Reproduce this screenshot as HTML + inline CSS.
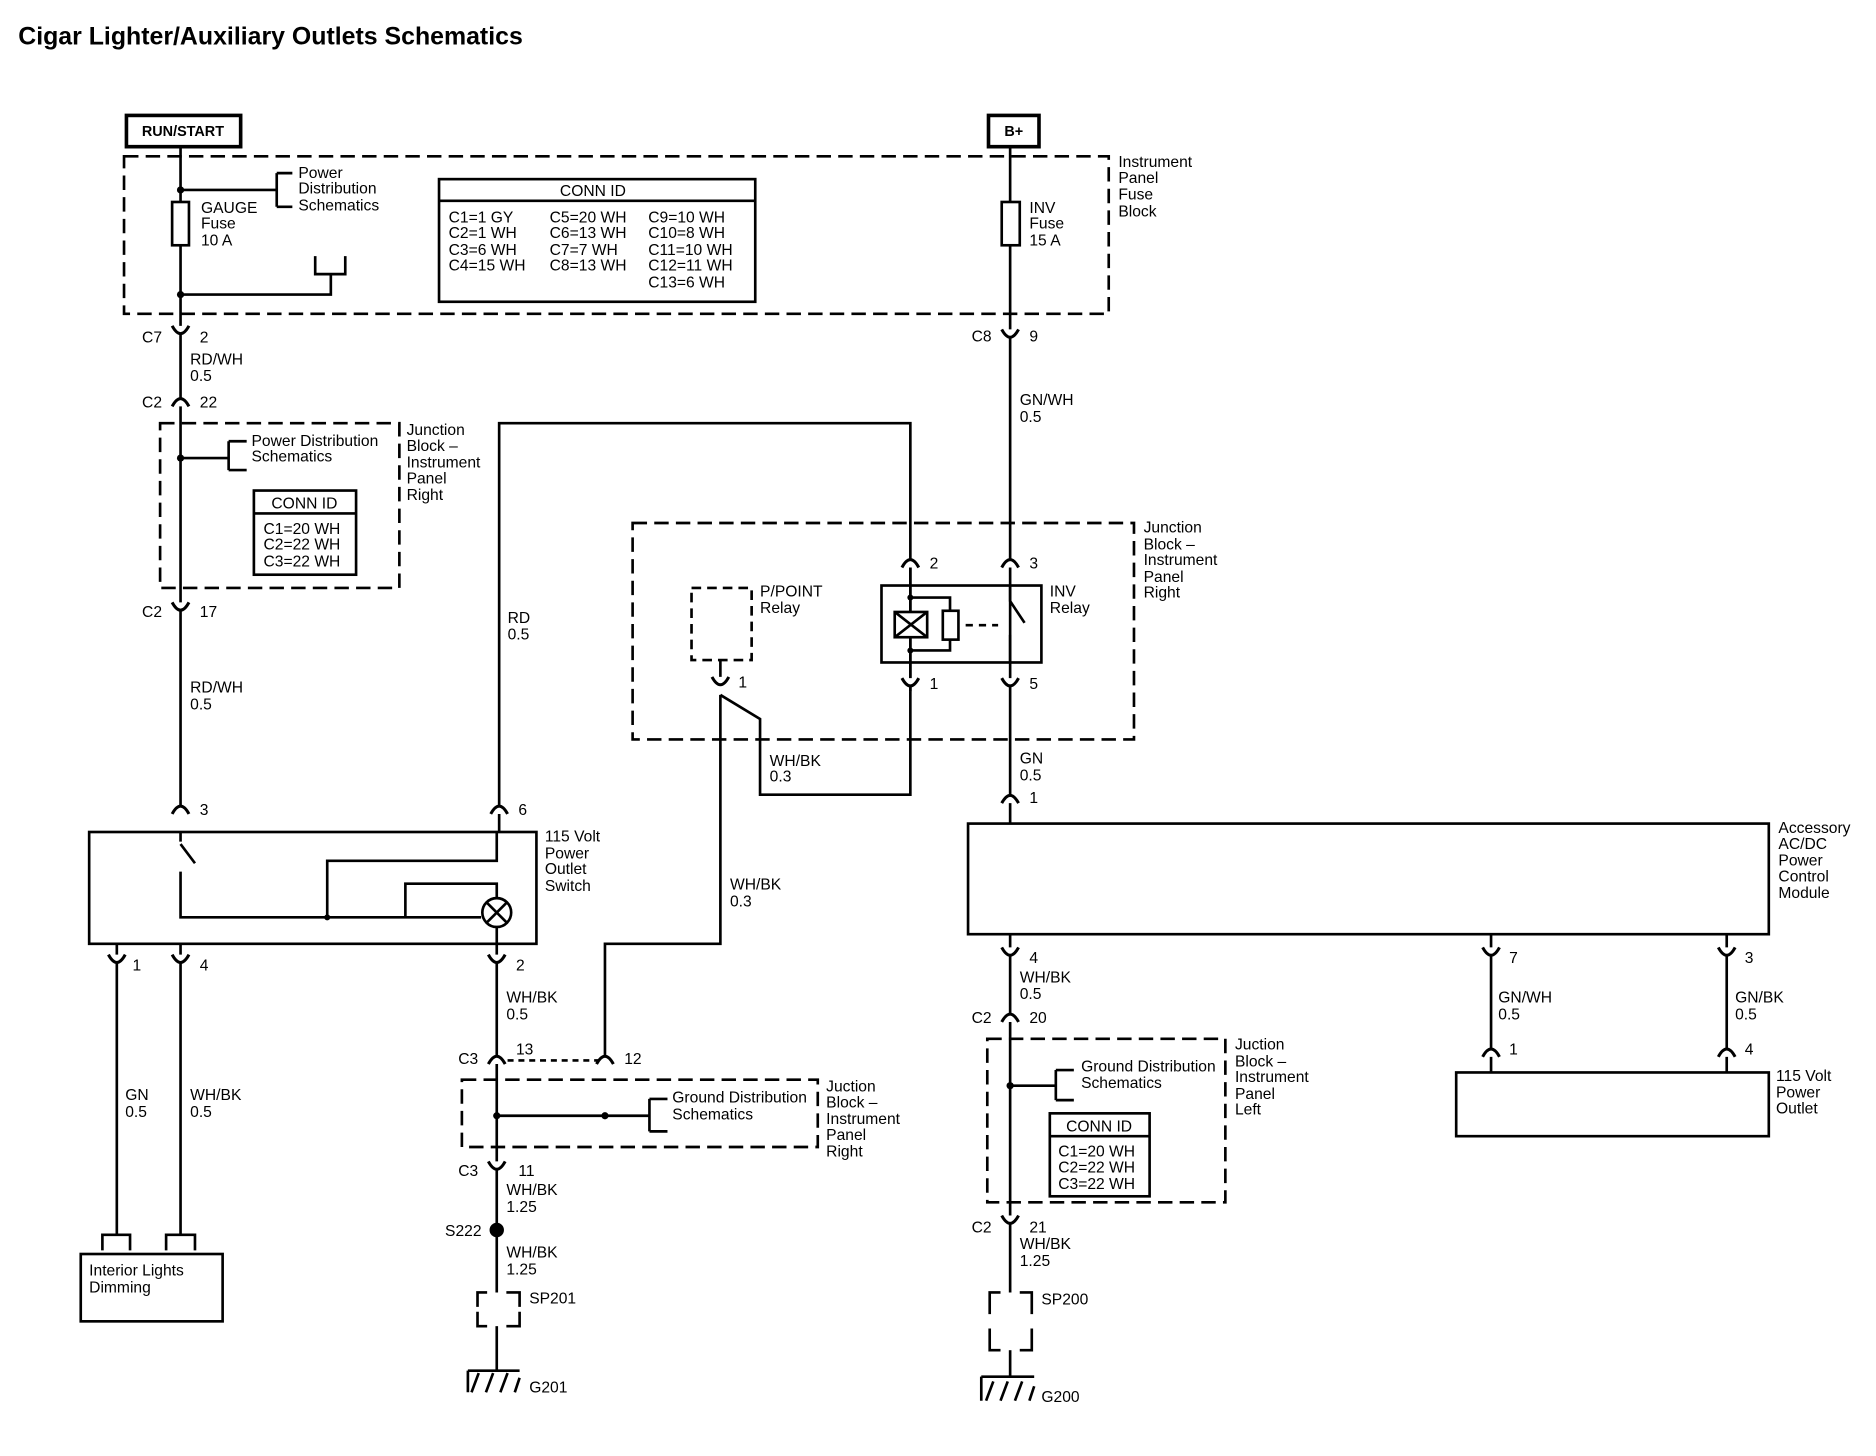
<!DOCTYPE html>
<html><head><meta charset="utf-8"><style>
html,body{margin:0;padding:0;background:#fff;}
svg{display:block;}
text{font-family:"Liberation Sans",sans-serif;font-size:13px;fill:#000;}
.b{font-weight:bold;}
</style></head><body>
<svg width="1876" height="1456" viewBox="0 0 1560 1211" xmlns="http://www.w3.org/2000/svg">
<g stroke="#000" stroke-width="2.2" fill="none">
<rect x="105" y="96" width="95" height="26" stroke-width="3"/>
<rect x="822" y="96" width="42" height="26" stroke-width="3"/>
<rect x="103" y="130" width="819" height="131" stroke-dasharray="12,6"/>
<line x1="150" y1="122" x2="150" y2="672"/>
<rect x="143" y="168" width="14" height="36" fill="#fff"/>
<path d="M150 158 H230 M230 144 V172 M230 144 H243 M230 172 H243"/>
<path d="M150 245 H275 V228 M262 213 V228 H287 V213"/>
<rect x="365" y="149" width="263" height="102"/>
<line x1="365" y1="167" x2="628" y2="167"/>
<line x1="840" y1="122" x2="840" y2="685"/>
<rect x="833" y="168" width="15" height="36" fill="#fff"/>
<rect x="133" y="352" width="199" height="137" stroke-dasharray="12,6"/>
<path d="M150 381 H190 M190 367 V391 M190 367 H205 M190 391 H205"/>
<rect x="211" y="408" width="85" height="70"/>
<line x1="211" y1="427" x2="296" y2="427"/>
<path d="M415 692 V352 H757 V575"/>
<rect x="74" y="692" width="372" height="93"/>
<path d="M150 692 V700 M150 702 L162 718 M150 725 V763 H400"/>
<path d="M272 763 V716 H413 V692"/>
<path d="M337 763 V735 H413 V747"/>
<circle cx="413" cy="759" r="12" fill="#fff"/>
<path d="M405 751 L421 767 M421 751 L405 767"/>
<line x1="413" y1="771" x2="413" y2="785"/>
<path d="M97 785 V1027 M150 785 V1027"/>
<path d="M85 1040 V1027 H108 V1040 M138 1040 V1027 H162 V1040"/>
<rect x="67" y="1043" width="118" height="56"/>
<line x1="413" y1="785" x2="413" y2="1075"/>
<line x1="413" y1="1103" x2="413" y2="1140"/>
<path d="M413 882 H503" stroke-dasharray="5,4"/>
<rect x="384" y="898" width="296" height="56" stroke-dasharray="12,6"/>
<path d="M413 928 H540 M540 914 V941 M540 914 H555 M540 941 H555"/>
<path d="M503 880 V785 H599 V578"/>
<path d="M599 578 L632 598 V661 H757 V575"/>
<path d="M405 1075 H397 V1087 M397 1091 V1103 H405 M421 1075 H432 V1087 M432 1091 V1103 H421"/>
<path d="M389 1140 H432 M392 1158 L398 1142 M404 1158 L410 1142 M416 1158 L422 1142 M428 1158 L432 1146 M389 1140 V1158"/>
<rect x="526" y="435" width="417" height="180" stroke-dasharray="12,6"/>
<rect x="575" y="489" width="50" height="60" stroke-dasharray="8,5"/>
<line x1="599" y1="549" x2="599" y2="566"/>
<rect x="733" y="487" width="133" height="64"/>
<line x1="757" y1="467" x2="757" y2="575"/>
<rect x="744" y="509" width="27" height="21" fill="#fff"/>
<path d="M744 509 L771 530 M771 509 L744 530"/>
<path d="M757 497 H790 V508 M757 541 H790 V532"/>
<rect x="784" y="508" width="13" height="24" fill="#fff"/>
<path d="M803 520 H830" stroke-dasharray="6,5"/>
<path d="M840 487 V500 L852 518 M840 528 V551" />
<rect x="805" y="685" width="666" height="92"/>
<line x1="840" y1="777" x2="840" y2="1075"/>
<line x1="840" y1="1123" x2="840" y2="1145"/>
<rect x="821" y="864" width="198" height="136" stroke-dasharray="12,6"/>
<path d="M840 903 H878 M878 890 V915 M878 890 H893 M878 915 H893"/>
<rect x="873" y="926" width="83" height="69"/>
<line x1="873" y1="945" x2="956" y2="945"/>
<path d="M832 1075 H823 V1093 M823 1105 V1123 H832 M848 1075 H858 V1093 M858 1105 V1123 H848"/>
<path d="M816 1145 H860 M816 1145 V1165 M820 1165 L826 1149 M832 1165 L838 1149 M844 1165 L850 1149 M856 1165 L860 1153"/>
<path d="M1240 777 V892 M1436 777 V892"/>
<rect x="1211" y="892" width="260" height="53"/>
</g>
<g stroke="#000" stroke-width="2.5" fill="#fff">
<path d="M143 271 Q150 284 157 271"/>
<path d="M143 338 Q150 325 157 338"/>
<path d="M143 501 Q150 514 157 501"/>
<path d="M143 677 Q150 664 157 677"/>
<path d="M408 677 Q415 664 422 677"/>
<path d="M90 794 Q97 807 104 794"/>
<path d="M143 794 Q150 807 157 794"/>
<path d="M406 794 Q413 807 420 794"/>
<path d="M406 885 Q413 872 420 885"/>
<path d="M496 885 Q503 872 510 885"/>
<path d="M406 966 Q413 979 420 966"/>
<path d="M833 274 Q840 287 847 274"/>
<path d="M750 472 Q757 459 764 472"/>
<path d="M833 472 Q840 459 847 472"/>
<path d="M592 563 Q599 576 606 563"/>
<path d="M750 564 Q757 577 764 564"/>
<path d="M833 564 Q840 577 847 564"/>
<path d="M833 668 Q840 655 847 668"/>
<path d="M833 788 Q840 801 847 788"/>
<path d="M1233 788 Q1240 801 1247 788"/>
<path d="M1429 788 Q1436 801 1443 788"/>
<path d="M833 850 Q840 837 847 850"/>
<path d="M833 1011 Q840 1024 847 1011"/>
<path d="M1233 879 Q1240 866 1247 879"/>
<path d="M1429 879 Q1436 866 1443 879"/>
</g>
<g fill="#000">
<circle cx="150" cy="158" r="3"/><circle cx="150" cy="245" r="3"/><circle cx="150" cy="381" r="3"/>
<circle cx="272" cy="763" r="2.5"/><circle cx="413" cy="928" r="3"/><circle cx="503" cy="928" r="3"/>
<circle cx="413" cy="1023" r="6"/><circle cx="840" cy="903" r="3"/>
<circle cx="757" cy="497" r="2.5"/><circle cx="757" cy="541" r="2.5"/>
</g>
<text x="15" y="37" class="b" style="font-size:20.7px">Cigar Lighter/Auxiliary Outlets Schematics</text>
<text x="152" y="113" text-anchor="middle" class="b" style="font-size:12px">RUN/START</text>
<text x="843" y="113" text-anchor="middle" class="b" style="font-size:12px">B+</text>
<text x="248" y="148">Power</text><text x="248" y="161">Distribution</text><text x="248" y="175">Schematics</text>
<text x="167" y="177">GAUGE</text><text x="167" y="190">Fuse</text><text x="167" y="204">10 A</text>
<text x="493" y="163" text-anchor="middle">CONN ID</text>
<text x="373" y="185">C1=1 GY</text><text x="373" y="198">C2=1 WH</text><text x="373" y="212">C3=6 WH</text><text x="373" y="225">C4=15 WH</text>
<text x="457" y="185">C5=20 WH</text><text x="457" y="198">C6=13 WH</text><text x="457" y="212">C7=7 WH</text><text x="457" y="225">C8=13 WH</text>
<text x="539" y="185">C9=10 WH</text><text x="539" y="198">C10=8 WH</text><text x="539" y="212">C11=10 WH</text><text x="539" y="225">C12=11 WH</text><text x="539" y="239">C13=6 WH</text>
<text x="856" y="177">INV</text><text x="856" y="190">Fuse</text><text x="856" y="204">15 A</text>
<text x="930" y="139">Instrument</text><text x="930" y="152">Panel</text><text x="930" y="166">Fuse</text><text x="930" y="180">Block</text>
<text x="118" y="285">C7</text><text x="166" y="285">2</text>
<text x="158" y="303">RD/WH</text><text x="158" y="317">0.5</text>
<text x="118" y="339">C2</text><text x="166" y="339">22</text>
<text x="209" y="371">Power Distribution</text><text x="209" y="384">Schematics</text>
<text x="253" y="423" text-anchor="middle">CONN ID</text>
<text x="219" y="444">C1=20 WH</text><text x="219" y="457">C2=22 WH</text><text x="219" y="471">C3=22 WH</text>
<text x="338" y="362">Junction</text><text x="338" y="375">Block –</text><text x="338" y="389">Instrument</text><text x="338" y="402">Panel</text><text x="338" y="416">Right</text>
<text x="118" y="513">C2</text><text x="166" y="513">17</text>
<text x="158" y="576">RD/WH</text><text x="158" y="590">0.5</text>
<text x="422" y="518">RD</text><text x="422" y="532">0.5</text>
<text x="166" y="678">3</text><text x="431" y="678">6</text>
<text x="453" y="700">115 Volt</text><text x="453" y="714">Power</text><text x="453" y="727">Outlet</text><text x="453" y="741">Switch</text>
<text x="110" y="807">1</text><text x="166" y="807">4</text><text x="429" y="807">2</text>
<text x="104" y="915">GN</text><text x="104" y="929">0.5</text>
<text x="158" y="915">WH/BK</text><text x="158" y="929">0.5</text>
<text x="74" y="1061">Interior Lights</text><text x="74" y="1075">Dimming</text>
<text x="421" y="834">WH/BK</text><text x="421" y="848">0.5</text>
<text x="381" y="885">C3</text><text x="429" y="877">13</text><text x="519" y="885">12</text>
<text x="559" y="917">Ground Distribution</text><text x="559" y="931">Schematics</text>
<text x="687" y="908">Juction</text><text x="687" y="921">Block –</text><text x="687" y="935">Instrument</text><text x="687" y="948">Panel</text><text x="687" y="962">Right</text>
<text x="381" y="978">C3</text><text x="431" y="978">11</text>
<text x="421" y="994">WH/BK</text><text x="421" y="1008">1.25</text>
<text x="370" y="1028">S222</text>
<text x="421" y="1046">WH/BK</text><text x="421" y="1060">1.25</text>
<text x="440" y="1084">SP201</text><text x="440" y="1158">G201</text>
<text x="607" y="740">WH/BK</text><text x="607" y="754">0.3</text>
<text x="640" y="637">WH/BK</text><text x="640" y="650">0.3</text>
<text x="632" y="496">P/POINT</text><text x="632" y="510">Relay</text>
<text x="614" y="572">1</text>
<text x="873" y="496">INV</text><text x="873" y="510">Relay</text>
<text x="773" y="473">2</text><text x="856" y="473">3</text><text x="773" y="573">1</text><text x="856" y="573">5</text>
<text x="951" y="443">Junction</text><text x="951" y="457">Block –</text><text x="951" y="470">Instrument</text><text x="951" y="484">Panel</text><text x="951" y="497">Right</text>
<text x="808" y="284">C8</text><text x="856" y="284">9</text>
<text x="848" y="337">GN/WH</text><text x="848" y="351">0.5</text>
<text x="848" y="635">GN</text><text x="848" y="649">0.5</text>
<text x="856" y="668">1</text>
<text x="1479" y="693">Accessory</text><text x="1479" y="706">AC/DC</text><text x="1479" y="720">Power</text><text x="1479" y="733">Control</text><text x="1479" y="747">Module</text>
<text x="856" y="801">4</text><text x="1255" y="801">7</text><text x="1451" y="801">3</text>
<text x="848" y="817">WH/BK</text><text x="848" y="831">0.5</text>
<text x="808" y="851">C2</text><text x="856" y="851">20</text>
<text x="899" y="891">Ground Distribution</text><text x="899" y="905">Schematics</text>
<text x="914" y="941" text-anchor="middle">CONN ID</text>
<text x="880" y="962">C1=20 WH</text><text x="880" y="975">C2=22 WH</text><text x="880" y="989">C3=22 WH</text>
<text x="1027" y="873">Juction</text><text x="1027" y="887">Block –</text><text x="1027" y="900">Instrument</text><text x="1027" y="914">Panel</text><text x="1027" y="927">Left</text>
<text x="808" y="1025">C2</text><text x="856" y="1025">21</text>
<text x="848" y="1039">WH/BK</text><text x="848" y="1053">1.25</text>
<text x="866" y="1085">SP200</text><text x="866" y="1166">G200</text>
<text x="1246" y="834">GN/WH</text><text x="1246" y="848">0.5</text>
<text x="1443" y="834">GN/BK</text><text x="1443" y="848">0.5</text>
<text x="1255" y="877">1</text><text x="1451" y="877">4</text>
<text x="1477" y="899">115 Volt</text><text x="1477" y="913">Power</text><text x="1477" y="926">Outlet</text>
</svg>
</body></html>
